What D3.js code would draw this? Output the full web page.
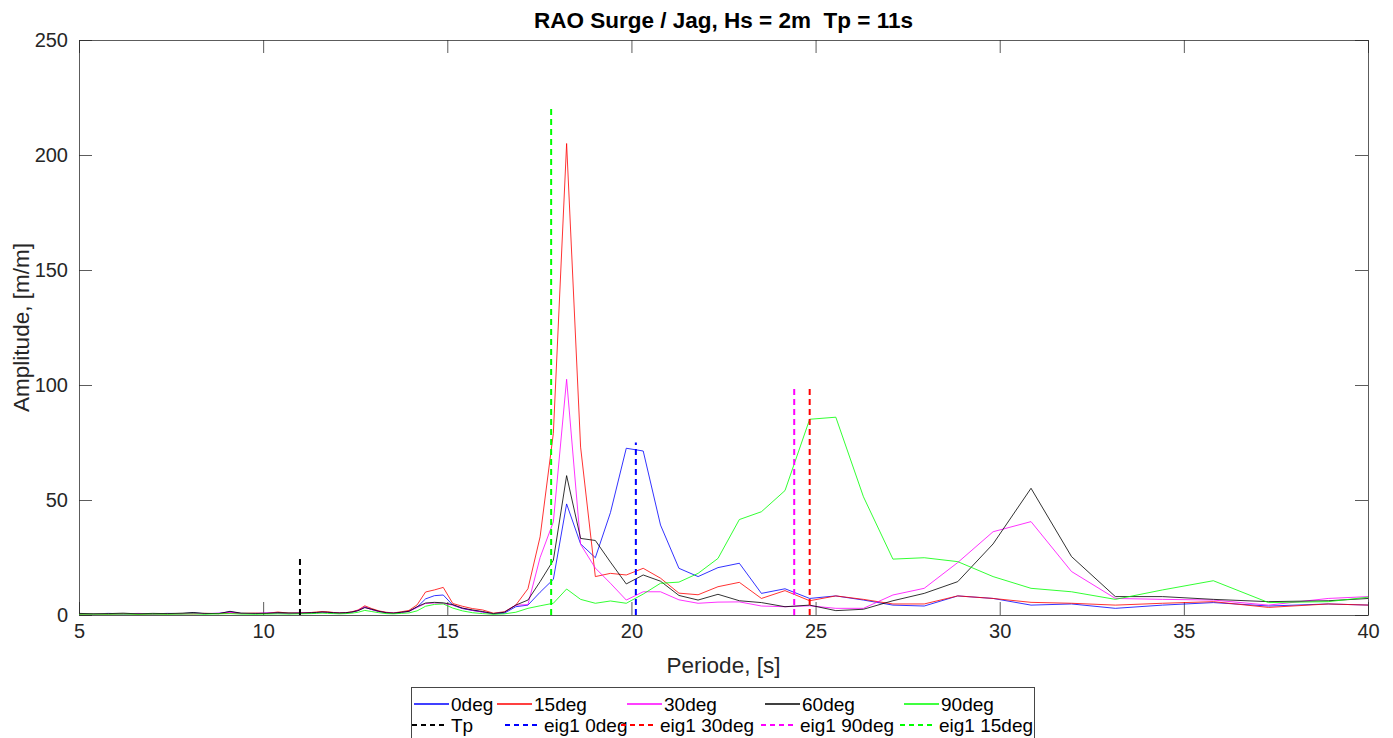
<!DOCTYPE html>
<html>
<head>
<meta charset="utf-8">
<script src="https://cdn.jsdelivr.net/npm/d3@7"></script>
<style>
  html, body { margin: 0; padding: 0; background: #fff; }
  svg { display: block; font-family: "Liberation Sans", Arial, Helvetica, sans-serif; }
</style>
</head>
<body>
<svg id="chart" width="1393" height="738"></svg>
<script>
// Wave periods [s] at which the RAOs were evaluated
const periods = [
  5.0, 5.4, 5.8, 6.2, 6.6, 7.0, 7.4, 7.8, 8.1, 8.4, 8.8, 9.1, 9.4, 9.8, 10.1, 10.4, 10.7, 11.0,
  11.31, 11.45, 11.60, 11.75, 11.91, 12.07, 12.24, 12.41,
  12.58, 12.76, 12.95, 13.14, 13.34, 13.54, 13.75, 13.96, 14.18, 14.41, 14.65, 14.89,
  15.15, 15.41, 15.68, 15.96, 16.25, 16.55, 16.86, 17.19, 17.52, 17.88,
  18.24, 18.62, 19.02, 19.43, 19.86, 20.32, 20.79, 21.29, 21.81, 22.35, 22.93, 23.53, 24.17, 24.84,
  25.55, 26.30, 27.10, 27.95, 28.86, 29.82, 30.85, 31.95, 33.14, 34.42, 35.80, 37.30, 38.92, 40.70
];

// Surge amplitude [m/m] per wave heading
const rao0deg = [
  0.6, 0.5, 0.7, 0.5, 0.6, 0.5, 0.7, 0.6, 0.9, 0.6, 0.7, 1.4, 0.7, 0.6, 0.8, 0.9, 0.6, 0.8,
  0.9, 1.0, 1.2, 1.1, 0.9, 0.8, 0.9, 1.2,
  2.0, 3.5, 2.4, 1.6, 1.0, 0.8, 1.1, 1.7, 3.4, 7.0, 8.4, 8.7,
  4.3, 2.8, 2.0, 1.3, 0.5, 0.8, 3.6, 4.3, 9.9, 15.5,
  48.3, 30.9, 24.9, 44.5, 72.5, 71.3, 39.1, 20.3, 16.7, 20.6, 22.5, 9.4, 11.4, 7.2,
  8.3, 6.5, 4.3, 3.9, 8.3, 7.2, 4.3, 4.8, 2.9, 4.3, 5.4, 3.9, 4.8, 4.0
];
const rao15deg = [
  0.4, 0.5, 0.4, 0.6, 0.4, 0.5, 0.5, 0.6, 0.5, 0.7, 0.6, 0.9, 0.7, 0.8, 0.7, 1.3, 0.8, 0.9,
  1.1, 1.3, 1.5, 1.4, 1.1, 0.9, 1.0, 1.4,
  2.2, 4.0, 2.8, 1.8, 1.2, 0.9, 1.4, 2.0, 4.4, 10.0, 10.9, 12.0,
  5.0, 3.8, 2.8, 2.2, 0.8, 1.4, 4.3, 11.4, 34.0, 79.0,
  205.0, 73.0, 16.7, 18.1, 17.4, 20.3, 16.0, 9.5, 8.8, 12.3, 14.2, 7.2, 10.6, 6.2,
  8.3, 6.8, 4.8, 4.8, 8.3, 7.2, 5.5, 5.1, 4.3, 5.1, 5.8, 3.3, 4.8, 4.0
];
const rao30deg = [
  0.5, 0.6, 0.5, 0.5, 0.7, 0.5, 0.6, 0.5, 0.7, 0.6, 0.8, 1.2, 0.6, 0.7, 0.9, 0.8, 0.7, 0.9,
  0.9, 1.0, 1.2, 1.1, 0.9, 0.8, 0.9, 1.2,
  2.0, 3.4, 2.3, 1.5, 1.0, 0.8, 1.1, 1.5, 3.3, 5.0, 5.2, 5.0,
  4.3, 3.0, 2.0, 1.3, 0.6, 1.2, 4.3, 4.5, 25.0, 40.5,
  102.5, 30.7, 20.4, 13.8, 6.5, 10.1, 10.1, 6.6, 5.1, 5.6, 5.7, 3.9, 3.6, 4.0,
  2.9, 2.9, 8.7, 11.6, 22.8, 36.2, 40.6, 18.9, 7.2, 6.8, 6.5, 4.3, 7.2, 8.5
];
const rao60deg = [
  0.7, 0.5, 0.6, 0.8, 0.5, 0.7, 0.6, 0.8, 1.1, 0.7, 0.6, 1.6, 0.8, 0.7, 0.7, 1.0, 0.9, 0.8,
  1.0, 1.1, 1.3, 1.2, 1.0, 0.9, 1.0, 1.3,
  1.9, 3.2, 2.5, 1.6, 1.0, 0.8, 1.2, 1.6, 3.6, 5.2, 5.5, 5.3,
  4.5, 3.0, 2.2, 1.5, 0.6, 1.2, 4.3, 6.5, 14.5, 23.8,
  60.6, 33.3, 32.4, 23.0, 13.5, 17.4, 14.7, 8.5, 6.5, 9.0, 6.2, 5.4, 3.6, 4.3,
  1.9, 2.5, 6.2, 9.4, 14.5, 30.9, 55.1, 25.4, 8.0, 8.0, 6.8, 5.8, 6.2, 7.8
];
const rao90deg = [
  0.3, 0.4, 0.3, 0.4, 0.3, 0.4, 0.3, 0.4, 0.5, 0.3, 0.5, 0.6, 0.4, 0.3, 0.4, 0.5, 0.4, 0.5,
  0.6, 0.7, 0.8, 0.7, 0.6, 0.5, 0.6, 0.8,
  1.2, 2.0, 1.5, 1.0, 0.6, 0.5, 0.7, 0.9, 1.8, 3.8, 4.6, 4.8,
  3.0, 1.8, 1.0, 0.6, 0.3, 0.5, 1.2, 2.9, 4.0, 5.1,
  11.3, 6.8, 5.1, 6.1, 5.1, 9.1, 13.8, 14.3, 18.1, 24.6, 41.5, 44.9, 54.1, 85.1,
  86.0, 51.4, 24.3, 24.9, 23.2, 16.7, 11.6, 10.1, 6.8, 10.9, 14.9, 5.4, 5.8, 9.0
];
const seriesNames = ["0deg", "15deg", "30deg", "60deg", "90deg"];
const seriesValues = [rao0deg, rao15deg, rao30deg, rao60deg, rao90deg];

// Peak period and first natural periods, drawn as vertical dashed markers
const markerNames = ["Tp", "eig1 0deg", "eig1 30deg", "eig1 90deg", "eig1 15deg"];
const markerPeriods = [11, 20.12, 24.84, 24.42, 17.82];
const markerHeights = [25, 75, 100, 100, 220];

const xTicks = [5, 10, 15, 20, 25, 30, 35, 40];
const yTicks = [0, 50, 100, 150, 200, 250];

const titleText = "RAO Surge / Jag, Hs = 2m  Tp = 11s";
const xLabelText = "Periode, [s]";
const yLabelText = "Amplitude, [m/m]";

// ---- styling ----
const seriesColors = ["#0000ff", "#ff0000", "#ff00ff", "#000000", "#00ff00"];
const markerColors = ["#000000", "#0000ff", "#ff0000", "#ff00ff", "#00ff00"];
const axisColor = "#262626";

const plot = { left: 79, right: 1368, top: 40, bottom: 615 };
const svg = d3.select("#chart");

const x = d3.scaleLinear().domain([5, 40]).range([plot.left, plot.right]);
const y = d3.scaleLinear().domain([0, 250]).range([plot.bottom, plot.top]);

svg.append("defs").append("clipPath").attr("id", "plotClip")
  .append("rect")
  .attr("x", plot.left).attr("y", plot.top)
  .attr("width", plot.right - plot.left).attr("height", plot.bottom - plot.top);

// ---- axes (box on, ticks inside on all four sides) ----
const tickLen = 13;
const axBottom = d3.axisBottom(x).tickValues(xTicks).tickSizeInner(-tickLen).tickSizeOuter(0).tickPadding(9);
const axTop = d3.axisTop(x).tickValues(xTicks).tickSizeInner(-tickLen).tickSizeOuter(0).tickFormat("");
const axLeft = d3.axisLeft(y).tickValues(yTicks).tickSizeInner(-tickLen).tickSizeOuter(0).tickPadding(11);
const axRight = d3.axisRight(y).tickValues(yTicks).tickSizeInner(-tickLen).tickSizeOuter(0).tickFormat("");

function styleAxis(g) {
  g.selectAll("path.domain").attr("stroke", axisColor).attr("stroke-width", 1).attr("opacity", 0.75);
  g.selectAll(".tick line").attr("stroke", axisColor).attr("stroke-width", 1).attr("opacity", 0.75);
  g.selectAll(".tick text").attr("fill", "#262626").attr("font-size", 20)
    .attr("font-family", "'Liberation Sans', Arial, Helvetica, sans-serif");
}

svg.append("g").attr("transform", `translate(0,${plot.bottom})`).call(axBottom).call(styleAxis);
svg.append("g").attr("transform", `translate(0,${plot.top})`).call(axTop).call(styleAxis);
svg.append("g").attr("transform", `translate(${plot.left},0)`).call(axLeft).call(styleAxis);
svg.append("g").attr("transform", `translate(${plot.right},0)`).call(axRight).call(styleAxis);

// ---- RAO curves ----
const line = d3.line().x(d => x(d[0])).y(d => y(d[1]));
const curves = svg.append("g").attr("clip-path", "url(#plotClip)");
seriesValues.forEach((vals, i) => {
  curves.append("path")
    .datum(periods.map((p, j) => [p, vals[j]]))
    .attr("fill", "none")
    .attr("stroke", seriesColors[i])
    .attr("stroke-width", 1)
    .attr("stroke-linejoin", "round")
    .attr("opacity", 0.8)
    .attr("d", line);
});

// ---- dashed period markers ----
const dash = "6,4";
markerPeriods.forEach((p, i) => {
  curves.append("line")
    .attr("x1", x(p)).attr("x2", x(p))
    .attr("y1", y(0)).attr("y2", y(markerHeights[i]))
    .attr("stroke", markerColors[i])
    .attr("stroke-width", 2)
    .attr("stroke-dasharray", dash);
});

// ---- title and axis labels ----
svg.append("text")
  .attr("x", (plot.left + plot.right) / 2).attr("y", 28)
  .attr("text-anchor", "middle")
  .attr("font-size", 22.5).attr("font-weight", "bold").attr("fill", "#000")
  .style("white-space", "pre")
  .text(titleText);

svg.append("text")
  .attr("x", (plot.left + plot.right) / 2).attr("y", 673)
  .attr("text-anchor", "middle")
  .attr("font-size", 22.5).attr("fill", "#262626")
  .text(xLabelText);

svg.append("text")
  .attr("transform", `translate(29,${(plot.top + plot.bottom) / 2}) rotate(-90)`)
  .attr("text-anchor", "middle")
  .attr("font-size", 22.5).attr("fill", "#262626")
  .text(yLabelText);

// ---- legend (two rows: headings, then markers) ----
const legend = svg.append("g");
legend.append("rect")
  .attr("x", 411.5).attr("y", 687.5).attr("width", 623).attr("height", 70)
  .attr("fill", "#fff").attr("stroke", axisColor).attr("stroke-width", 1).attr("opacity", 0.85);

const legendRow1 = [414, 497, 627, 765, 904];
const legendRow2 = [412, 505, 621, 761, 900];
const sampleLen = 35;
seriesNames.forEach((name, i) => {
  const lx = legendRow1[i], ly = 704;
  legend.append("line").attr("x1", lx).attr("x2", lx + sampleLen).attr("y1", ly).attr("y2", ly)
    .attr("stroke", seriesColors[i]).attr("stroke-width", 1.3);
  legend.append("text").attr("x", lx + sampleLen + 2).attr("y", ly).attr("dy", "0.35em")
    .attr("font-size", 19).attr("fill", "#000").text(name);
});
markerNames.forEach((name, i) => {
  const lx = legendRow2[i], ly = 725;
  legend.append("line").attr("x1", lx).attr("x2", lx + sampleLen).attr("y1", ly).attr("y2", ly)
    .attr("stroke", markerColors[i]).attr("stroke-width", 2).attr("stroke-dasharray", "5,4");
  legend.append("text").attr("x", lx + sampleLen + 4).attr("y", ly).attr("dy", "0.35em")
    .attr("font-size", 19).attr("fill", "#000").text(name);
});
</script>
</body>
</html>
